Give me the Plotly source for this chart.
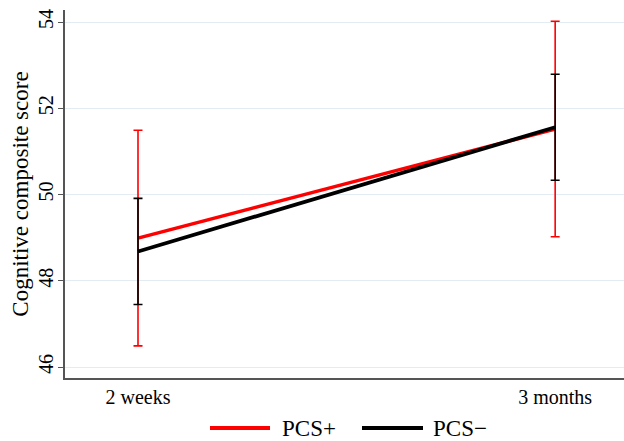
import plotly.graph_objects as go

timepoints = ["2 weeks", "3 months"]
pcs_pos_mean = [48.99, 51.52]
pcs_pos_err = [2.50, 2.50]
pcs_neg_mean = [48.68, 51.56]
pcs_neg_err = [1.23, 1.23]
y_ticks = [46, 48, 50, 52, 54]

FONT = "Liberation Serif"
RED = "#ff0000"
BLACK = "#000000"

L, T, W, H = 65, 10, 559, 368

fig = go.Figure()
xs = [0, 1]
fig.add_trace(go.Scatter(
    x=xs, y=pcs_pos_mean, mode="lines", name="PCS+",
    line=dict(color=RED, width=3.5),
    error_y=dict(type="data", array=pcs_pos_err, color=RED, thickness=1.6, width=4.5),
    showlegend=False,
))
fig.add_trace(go.Scatter(
    x=xs, y=pcs_neg_mean, mode="lines", name="PCS\u2212",
    line=dict(color=BLACK, width=3.8),
    error_y=dict(type="data", array=pcs_neg_err, color=BLACK, thickness=1.6, width=4.5),
    showlegend=False,
))

# manual legend
ly = -(428 - (T + H)) / H
fig.add_shape(type="line", xref="paper", yref="paper", x0=(210-L)/W, x1=(270-L)/W,
              y0=ly, y1=ly, line=dict(color=RED, width=4))
fig.add_shape(type="line", xref="paper", yref="paper", x0=(362-L)/W, x1=(423-L)/W,
              y0=ly, y1=ly, line=dict(color=BLACK, width=4))
fig.add_annotation(text="PCS+", xref="paper", yref="paper", x=(280-L)/W, y=ly,
                   xanchor="left", yanchor="middle", showarrow=False,
                   font=dict(family=FONT, size=23, color="black"))
fig.add_annotation(text="PCS\u2212", xref="paper", yref="paper", x=(431-L)/W, y=ly,
                   xanchor="left", yanchor="middle", showarrow=False,
                   font=dict(family=FONT, size=23, color="black"))

fig.update_layout(
    width=624, height=441,
    margin=dict(l=L, r=624-L-W, t=T, b=441-T-H, autoexpand=False),
    paper_bgcolor="white", plot_bgcolor="white",
    font=dict(family=FONT, size=20, color="black"),
    xaxis=dict(
        range=[-0.175, 1.165], tickmode="array", tickvals=xs, ticktext=timepoints,
        showgrid=False, zeroline=False, showline=True, linecolor="#555555", linewidth=2,
        ticks="", tickfont=dict(family=FONT, size=20), automargin=False,
    ),
    yaxis=dict(
        range=[45.745, 54.28], tickmode="array", tickvals=y_ticks,
        showgrid=True, gridcolor="#e4ecf3", gridwidth=1, zeroline=False,
        showline=True, linecolor="#555555", linewidth=2,
        ticks="outside", ticklen=5, tickcolor="#555555", tickangle=-90,
        ticklabelstandoff=-3,
        tickfont=dict(family=FONT, size=20), automargin=False,
        title=dict(text="Cognitive composite score", font=dict(family=FONT, size=23), standoff=0),
    ),
)

fig.write_html("out.html", config={"displayModeBar": False},
               post_script="document.body.style.margin='0';document.body.style.overflow='hidden';")
